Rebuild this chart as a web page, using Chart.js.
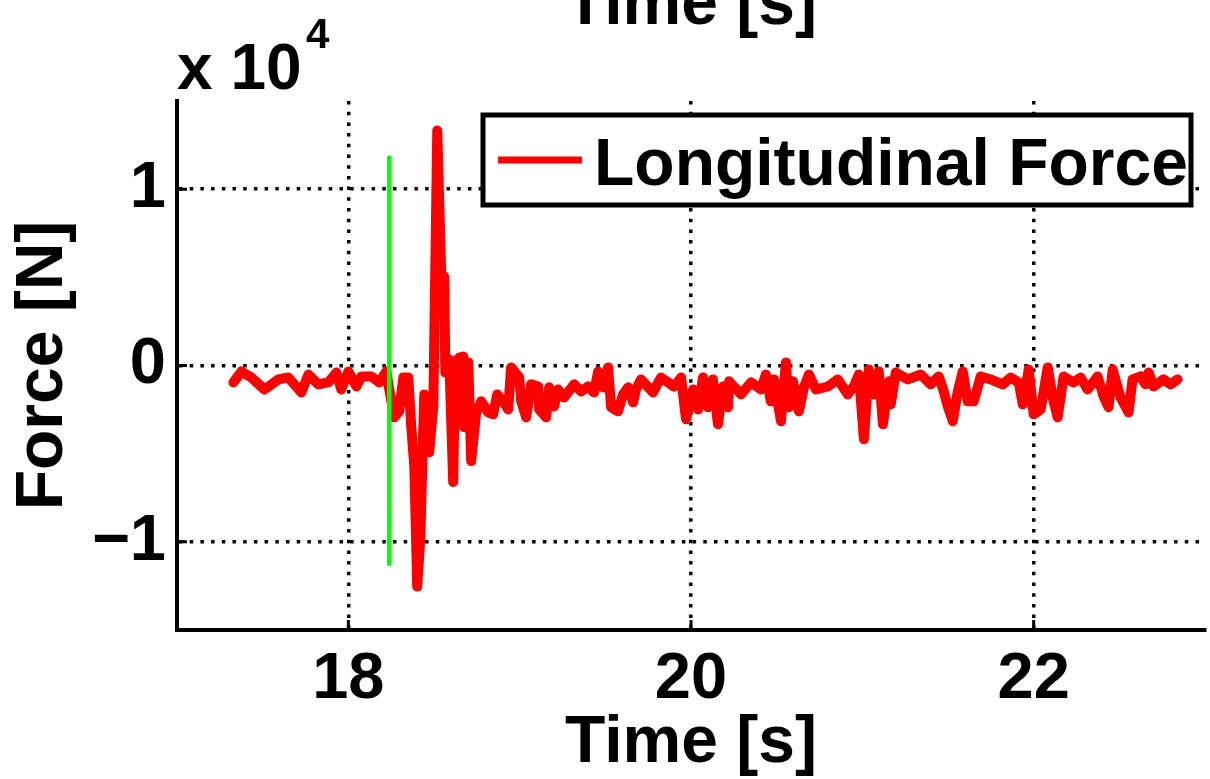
<!DOCTYPE html>
<html>
<head>
<meta charset="utf-8">
<script src="https://cdn.jsdelivr.net/npm/chart.js@4.4.1/dist/chart.umd.min.js"></script>
<style>
  html, body { margin: 0; padding: 0; background: #fff; }
  #wrap { width: 1210px; height: 779px; }
</style>
</head>
<body>
<div id="wrap"><canvas id="force-chart"></canvas></div>
<script>
// time [s] and longitudinal force [N]
const times = [
  17.329, 17.376, 17.434, 17.510, 17.592, 17.650, 17.726, 17.767, 17.825, 17.883,
  17.930, 17.959, 18.000, 18.047, 18.076, 18.134, 18.181, 18.222, 18.239, 18.268,
  18.297, 18.321, 18.350, 18.367, 18.385, 18.402, 18.420, 18.443, 18.466, 18.472,
  18.496, 18.519, 18.542, 18.560, 18.566, 18.589, 18.612, 18.624, 18.647, 18.671,
  18.676, 18.700, 18.717, 18.746, 18.776, 18.816, 18.845, 18.869, 18.904, 18.933,
  18.950, 18.997, 19.009, 19.038, 19.067, 19.108, 19.114, 19.155, 19.172, 19.201,
  19.224, 19.259, 19.318, 19.359, 19.399, 19.434, 19.458, 19.487, 19.516, 19.534,
  19.574, 19.603, 19.633, 19.662, 19.679, 19.708, 19.778, 19.825, 19.866, 19.901,
  19.942, 19.971, 20.012, 20.041, 20.070, 20.099, 20.128, 20.157, 20.187, 20.216,
  20.222, 20.292, 20.350, 20.408, 20.437, 20.466, 20.484, 20.525, 20.554, 20.571,
  20.595, 20.630, 20.659, 20.688, 20.729, 20.799, 20.857, 20.915, 20.950, 20.980,
  21.009, 21.038, 21.067, 21.096, 21.120, 21.155, 21.166, 21.195, 21.265, 21.341,
  21.399, 21.446, 21.475, 21.499, 21.528, 21.557, 21.586, 21.615, 21.650, 21.691,
  21.749, 21.819, 21.866, 21.913, 21.936, 21.971, 22.000, 22.041, 22.082, 22.111,
  22.140, 22.175, 22.233, 22.274, 22.315, 22.373, 22.408, 22.437, 22.461, 22.507,
  22.554, 22.577, 22.624, 22.653, 22.671, 22.700, 22.758, 22.799, 22.840
];
const forces = [
  -960, -340, -680, -1360, -790, -680, -1530, -510, -1070, -960,
  -400, -1360, -340, -1190, -620, -620, -960, -340, -1360, -2940,
  -2600, -680, -680, -3450, -5710, -12540, -9830, -1640, -1920, -4920,
  -2320, 13330, 5250, 5030, -400, 340, -6610, 170, 450, 510,
  -3500, 170, -5420, -2660, -2030, -2660, -2770, -1640, -2030, -2490,
  -110, -680, -2030, -2940, -1070, -1190, -2490, -2940, -1240, -2320,
  -1360, -1810, -1070, -1470, -1190, -1530, -340, -1240, -110, -2370,
  -2600, -1640, -1240, -2090, -1360, -790, -1530, -680, -960, -1190,
  -680, -3050, -1360, -2490, -680, -2370, -790, -3330, -1190, -2370,
  -900, -1640, -960, -1360, -510, -2030, -790, -3160, 170, -2370,
  -900, -2600, -1240, -510, -1360, -1190, -790, -1640, -1190, -510,
  -4180, -230, -1640, -340, -3330, -900, -2200, -400, -790, -510,
  -1070, -620, -1470, -2320, -3160, -1470, -340, -2030, -2030, -620,
  -790, -1070, -680, -960, -2200, -230, -2770, -2490, -110, -1810,
  -2940, -620, -960, -680, -1360, -620, -1750, -2370, -230, -1810,
  -2660, -790, -620, -1070, -400, -1190, -790, -1070, -790
];
// vertical event marker
const markerTimes = [18.239, 18.239];
const markerForces = [11900, -11360];

const xTicks = [18, 20, 22];
const yTicks = [-10000, 0, 10000];

const fontFamily = "'Liberation Sans', Arial, Helvetica, sans-serif";

function toPoints(xs, ys) {
  return xs.map((t, i) => ({ x: t, y: ys[i] }));
}

const extras = {
  id: 'extras',
  afterDraw(chart) {
    const ctx = chart.ctx;
    const area = chart.chartArea;
    const xs = chart.scales.x;
    const ys = chart.scales.y;
    ctx.save();

    // short inward tick marks
    ctx.strokeStyle = '#000';
    ctx.lineWidth = 3;
    ctx.beginPath();
    xTicks.forEach(v => {
      const px = xs.getPixelForValue(v);
      ctx.moveTo(px, area.bottom);
      ctx.lineTo(px, area.bottom - 10);
    });
    yTicks.forEach(v => {
      const py = ys.getPixelForValue(v);
      ctx.moveTo(area.left, py);
      ctx.lineTo(area.left + 10, py);
    });
    ctx.stroke();

    ctx.fillStyle = '#000';
    // title, mostly cut off at the top
    ctx.font = 'bold 66px ' + fontFamily;
    ctx.textAlign = 'center';
    ctx.textBaseline = 'alphabetic';
    ctx.fillText('Time [s]', (area.left + area.right) / 2, 24);

    // exponent label
    ctx.textAlign = 'left';
    ctx.font = 'bold 64px ' + fontFamily;
    ctx.fillText('x 10', area.left, 89);
    ctx.font = 'bold 42px ' + fontFamily;
    ctx.fillText('4', area.left + 129, 48);

    // legend box
    const ds = chart.data.datasets[0];
    ctx.fillStyle = '#fff';
    ctx.fillRect(483, 115, 708, 90);
    ctx.lineWidth = 5;
    ctx.strokeStyle = '#000';
    ctx.strokeRect(483, 115, 708, 90);
    ctx.strokeStyle = ds.borderColor;
    ctx.lineWidth = 7;
    ctx.beginPath();
    ctx.moveTo(498, 160);
    ctx.lineTo(582, 160);
    ctx.stroke();
    ctx.fillStyle = '#000';
    ctx.font = 'bold 66px ' + fontFamily;
    ctx.fillText(ds.label, 594, 185);

    ctx.restore();
  }
};

const ctx = document.getElementById('force-chart').getContext('2d');
const chart = new Chart(ctx, {
  type: 'line',
  data: {
    datasets: [
      {
        label: 'Longitudinal Force',
        data: toPoints(times, forces),
        borderColor: '#ff0000',
        borderWidth: 10,
        borderJoinStyle: 'round',
        borderCapStyle: 'round',
        pointRadius: 0,
        tension: 0,
        order: 1
      },
      {
        label: 'marker',
        data: toPoints(markerTimes, markerForces),
        borderColor: '#00ff00',
        borderWidth: 4.5,
        pointRadius: 0,
        order: 0
      }
    ]
  },
  options: {
    responsive: true,
    maintainAspectRatio: false,
    animation: false,
    layout: { padding: { top: 101, right: 5, left: 0, bottom: 0 } },
    plugins: {
      legend: { display: false },
      tooltip: { enabled: false }
    },
    scales: {
      x: {
        type: 'linear',
        min: 17,
        max: 23,
        afterBuildTicks: s => { s.ticks = xTicks.map(v => ({ value: v })); },
        afterFit: s => { s.height = 149; },
        ticks: {
          color: '#000',
          padding: 11,
          maxRotation: 0,
          font: { family: fontFamily, size: 65, weight: 'bold' }
        },
        grid: { color: '#000', lineWidth: 3.5, drawTicks: false },
        border: { color: '#000', width: 4, dash: [3.5, 7.2] },
        title: {
          display: true,
          text: 'Time [s]',
          color: '#000',
          padding: { top: 0, bottom: 2 },
          font: { family: fontFamily, size: 66, weight: 'bold', lineHeight: 1 }
        }
      },
      y: {
        min: -15000,
        max: 15000,
        afterBuildTicks: s => { s.ticks = yTicks.map(v => ({ value: v })); },
        afterFit: s => { s.width = 177; },
        ticks: {
          color: '#000',
          padding: 11,
          font: { family: fontFamily, size: 65, weight: 'bold' },
          callback: v => {
            const n = v / 10000;
            return n < 0 ? '\u2212' + Math.abs(n) : String(n);
          }
        },
        grid: { color: '#000', lineWidth: 3.5, drawTicks: false },
        border: { color: '#000', width: 4, dash: [3.5, 7.2] },
        title: {
          display: true,
          text: 'Force [N]',
          color: '#000',
          padding: { top: 11, bottom: 0 },
          font: { family: fontFamily, size: 66, weight: 'bold', lineHeight: 1 }
        }
      }
    }
  },
  plugins: [extras]
});
</script>
</body>
</html>
